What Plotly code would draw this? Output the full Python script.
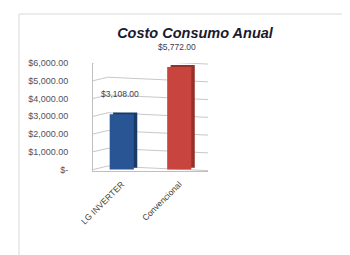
import plotly.graph_objects as go

categories = ["LG INVERTER", "Convencional"]
values = [3108.00, 5772.00]
value_labels = ["$3,108.00", "$5,772.00"]
tick_vals = [0, 1000, 2000, 3000, 4000, 5000, 6000]
tick_text = ["$-", "$1,000.00", "$2,000.00", "$3,000.00", "$4,000.00", "$5,000.00", "$6,000.00"]
title_text = "Costo Consumo Anual"

front_colors = ["#2A5595", "#C8443E"]
side_colors = ["#1A3A68", "#963029"]

fig = go.Figure()
# depth (3D-looking side/top) layer
fig.add_trace(go.Bar(
    x=categories, y=values, base=[110, 110],
    width=0.42, offset=-0.21 + 0.06,
    marker=dict(color=side_colors, line=dict(width=0)),
    hoverinfo="skip", showlegend=False,
))
# front faces
fig.add_trace(go.Bar(
    x=categories, y=values,
    width=0.42, offset=-0.21,
    marker=dict(color=front_colors, line=dict(width=0)),
    showlegend=False,
))

W, H = 350, 255
L, R, T, B = 85, 150, 55, 92
pw, ph = W - L - R, H - T - B

def px_x(px):
    return (px - L) / pw

def px_y(py):
    return (H - B - py) / ph

annotations = [
    dict(x=c, y=v, xref="x", yref="y", text=t, showarrow=False,
         xanchor="center", yanchor="bottom", yshift=13, xshift=-2,
         font=dict(family="Liberation Sans", size=8.5, color="#404050"))
    for c, v, t in zip(categories, values, value_labels)
]

# perspective-style gridlines: left wall slanting up, back wall slightly down
shapes = [dict(type="rect", xref="paper", yref="paper",
               x0=px_x(11), x1=px_x(349), y0=px_y(254), y1=px_y(6),
               line=dict(color="#d9d9d9", width=1), fillcolor="rgba(0,0,0,0)", layer="below")]
for v in tick_vals:
    shapes.append(dict(type="line", xref="paper", yref="y", x0=0, x1=0.13, y0=v, y1=v + 200,
                       line=dict(color="#c8c8c8", width=1), layer="below"))
    shapes.append(dict(type="line", xref="paper", yref="y", x0=0.13, x1=1.0, y0=v + 200, y1=v - 60,
                       line=dict(color="#c8c8c8", width=1), layer="below"))

fig.update_layout(
    width=W, height=H,
    margin=dict(l=L, r=R, t=T, b=B),
    paper_bgcolor="white", plot_bgcolor="white",
    barmode="overlay",
    title=dict(text=title_text, x=187 / W, xanchor="center", y=1 - 25 / H, yanchor="middle",
               font=dict(family="Liberation Sans", size=14.5, color="#1a1a30", weight="bold", style="italic")),
    xaxis=dict(showgrid=False, showline=True, linecolor="#bfbfbf", tickangle=-45,
               ticklabelstandoff=4,
               tickfont=dict(family="Liberation Sans", size=8.5, color="#404040"), ticks=""),
    yaxis=dict(range=[-80, 6000], tickvals=tick_vals, ticktext=tick_text,
               showgrid=False, zeroline=False,
               showline=True, linecolor="#bfbfbf", ticklabelstandoff=22,
               tickfont=dict(family="Liberation Sans", size=9, color="#505060"), ticks=""),
    annotations=annotations,
    shapes=shapes,
)

fig.write_html("out.html")
